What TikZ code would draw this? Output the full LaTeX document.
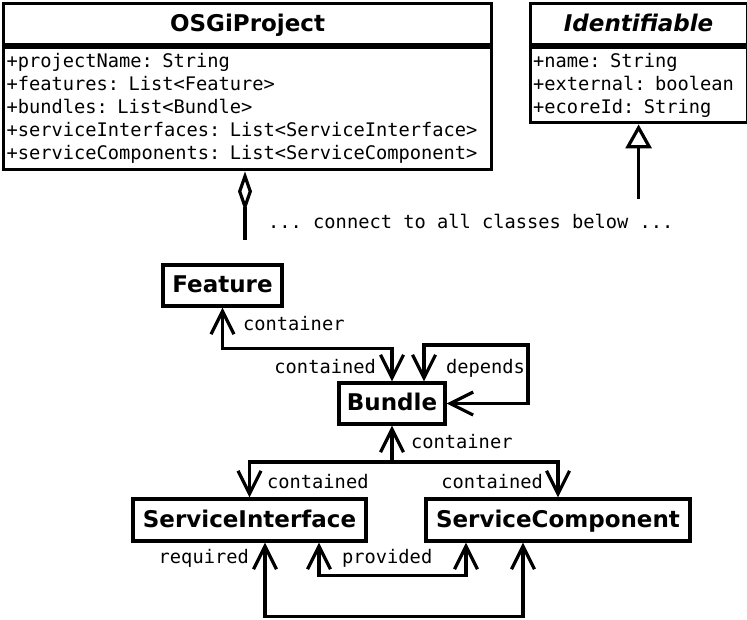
\documentclass[tikz,border=0pt]{standalone}
\usepackage{fontspec}
\setmainfont{DejaVu Sans}
\setmonofont{DejaVu Sans Mono}
\usetikzlibrary{arrows.meta}

\newcommand{\clsfont}{\fontsize{23}{28}\selectfont\bfseries}
\newcommand{\attfont}{\fontsize{18.7}{23}\selectfont\ttfamily}

\tikzset{
  navtip/.tip={Straight Barb[length=23pt,width=23pt]},
  umlname/.style={draw, line width=3.2pt, font=\clsfont, inner sep=0pt,
    text height=18pt, text depth=4pt, minimum height=41pt},
  umlattr/.style={draw, line width=3.2pt, font=\attfont, align=left,
    anchor=north west, inner xsep=3pt, inner ysep=0pt},
  assoc/.style={line width=3.2pt, navtip-navtip},
  nav/.style={line width=3.2pt, -navtip},
  lbl/.style={font=\attfont, inner sep=0pt},
}

\begin{document}
\begin{tikzpicture}[x=1pt, y=-1pt]
  \useasboundingbox (0,0) rectangle (747,619);

  % OSGiProject class
  \node[umlname, minimum width=488pt, anchor=north west] (projName) at (2,2) {OSGiProject};
  \node[umlattr, text width=482pt, minimum height=122pt] (projAttr) at (projName.south west)
    {+projectName: String\\
     +features: List<Feature>\\
     +bundles: List<Bundle>\\
     +serviceInterfaces: List<ServiceInterface>\\
     +serviceComponents: List<ServiceComponent>};

  % Identifiable class
  \node[umlname, font=\clsfont\itshape, minimum width=217pt, anchor=north west] (identName) at (528.5,2) {Identifiable};
  \node[umlattr, text width=211pt, minimum height=75pt] (identAttr) at (identName.south west)
    {+name: String\\
     +external: boolean\\
     +ecoreId: String};

  % aggregation and generalization
  \coordinate (aggEnd) at (245,240);
  \draw[line width=3.2pt, {Diamond[open,length=40pt,width=14pt]}-] (projAttr.south -| aggEnd) -- (aggEnd);
  \coordinate (genEnd) at (identAttr.south |- 0,199);
  \draw[line width=3.2pt, -{Triangle[open,length=24pt,width=26pt]}] (genEnd) -- (identAttr.south);
  \node[lbl, anchor=base west] (note) at (268,228) {... connect to all classes below ...};

  % model classes
  \node[umlname, minimum width=119pt] (feature) at (222.5,285.5) {Feature};
  \node[umlname, minimum width=106pt] (bundle) at (392,403.5) {Bundle};
  \node[umlname, minimum width=233pt, minimum height=42pt] (si) at (249.5,520) {ServiceInterface};
  \node[umlname, minimum width=264pt, minimum height=42pt] (sc) at (558,520) {ServiceComponent};

  % Feature -- Bundle
  \draw[assoc] (feature.south) -- ++(0,41) -| (bundle.north);
  \node[lbl, anchor=base west] (featCont) at (243,330) {container};
  \node[lbl, anchor=base east] (bundCont) at (376,373) {contained};

  % Bundle depends
  \coordinate (depCorner) at (528,345);
  \draw[assoc] ([xshift=32pt]bundle.north) |- (depCorner) |- (bundle.east);
  \node[lbl, anchor=base west] (depLbl) at (446,373) {depends};

  % Bundle -- services
  \coordinate (split) at (392,462);
  \draw[assoc] (bundle.south) -- (split) -| (si.north);
  \draw[nav] (split) -| (sc.north);
  \node[lbl, anchor=base west] (bundCnr) at (411,448) {container};
  \node[lbl, anchor=base west] (siCont) at (267,488) {contained};
  \node[lbl, anchor=base east] (scCont) at (543,488) {contained};

  % provided / required
  \draw[assoc] ([xshift=69.5pt]si.south) -- ++(0,33) -| ([xshift=-92pt]sc.south);
  \draw[assoc] ([xshift=15.5pt]si.south) -- ++(0,74) -| ([xshift=-35pt]sc.south);
  \node[lbl, anchor=base east] (reqLbl) at (249,563) {required};
  \node[lbl, anchor=base west] (provLbl) at (342,563) {provided};

\end{tikzpicture}
\end{document}
